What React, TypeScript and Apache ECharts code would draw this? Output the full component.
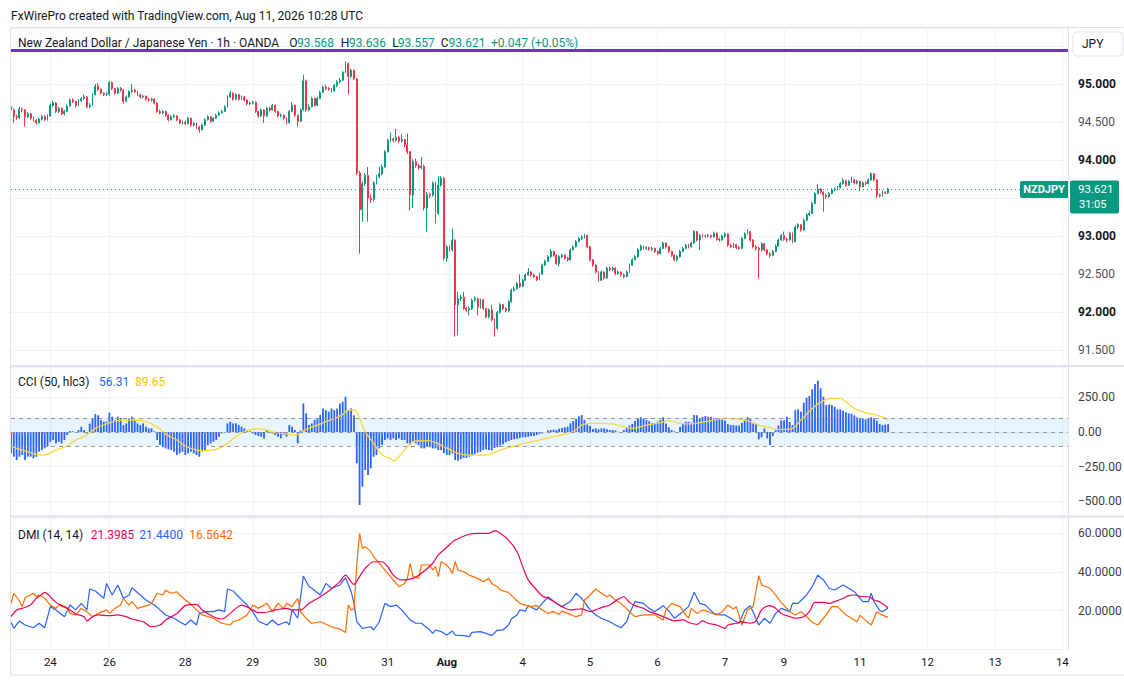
import React, { useEffect, useRef } from 'react';
import * as echarts from 'echarts';

// ---------- DATA (1h bars, bar 0 = Jul 23 10:00) ----------
const firstOpen = 94.70;
const closes = [
  94.66, 94.57, 94.56, 94.67, 94.66, 94.57, 94.61, 94.55, 94.52, 94.49,
  94.54, 94.57, 94.53, 94.58, 94.72, 94.75, 94.64, 94.68, 94.61, 94.64,
  94.71, 94.79, 94.77, 94.72, 94.78, 94.81, 94.83, 94.70, 94.72, 94.86,
  94.97, 94.93, 94.88, 94.86, 94.87, 95.02, 94.94, 94.88, 94.94, 94.92,
  94.77, 94.83, 94.90, 94.92, 94.90, 94.86, 94.83, 94.84, 94.80, 94.79,
  94.80, 94.75, 94.64, 94.62, 94.64, 94.59, 94.53, 94.57, 94.58, 94.53,
  94.49, 94.50, 94.48, 94.55, 94.46, 94.48, 94.43, 94.40, 94.46, 94.53,
  94.57, 94.51, 94.55, 94.59, 94.62, 94.64, 94.70, 94.83, 94.88, 94.80,
  94.86, 94.80, 94.83, 94.79, 94.74, 94.75, 94.76, 94.64, 94.58, 94.66,
  94.58, 94.68, 94.66, 94.72, 94.64, 94.58, 94.59, 94.55, 94.49, 94.64,
  94.72, 94.59, 94.51, 94.66, 95.04, 94.66, 94.70, 94.81, 94.72, 94.81,
  94.89, 94.96, 94.94, 94.93, 94.91, 94.98, 95.03, 95.05, 95.15, 95.27,
  95.10, 95.18, 95.07, 93.83, 93.35, 93.69, 93.80, 93.50, 93.48, 93.70,
  93.78, 93.82, 93.91, 94.11, 94.26, 94.28, 94.26, 94.30, 94.25, 94.27,
  94.20, 94.11, 93.54, 93.98, 93.93, 93.90, 93.92, 93.37, 93.55, 93.54,
  93.70, 93.30, 93.67, 93.76, 92.71, 92.86, 92.82, 92.95, 92.10, 92.18,
  92.20, 92.05, 92.03, 92.05, 92.16, 92.18, 92.07, 92.16, 92.05, 91.94,
  92.03, 91.90, 91.79, 92.00, 92.10, 92.05, 92.02, 92.14, 92.29, 92.31,
  92.38, 92.34, 92.42, 92.49, 92.53, 92.49, 92.47, 92.43, 92.50, 92.62,
  92.67, 92.73, 92.80, 92.75, 92.64, 92.73, 92.75, 92.71, 92.69, 92.82,
  92.86, 92.93, 92.97, 92.99, 93.01, 92.86, 92.69, 92.62, 92.53, 92.42,
  92.53, 92.45, 92.58, 92.56, 92.58, 92.51, 92.53, 92.49, 92.47, 92.53,
  92.62, 92.69, 92.73, 92.82, 92.87, 92.84, 92.85, 92.83, 92.84, 92.80,
  92.77, 92.84, 92.91, 92.86, 92.80, 92.75, 92.69, 92.73, 92.80, 92.84,
  92.88, 92.86, 92.91, 93.06, 92.95, 93.01, 93.00, 93.00, 93.01, 92.99,
  93.04, 92.96, 92.95, 93.00, 93.03, 92.88, 92.86, 92.89, 92.85, 92.84,
  92.97, 93.03, 93.06, 92.95, 92.86, 92.84, 92.82, 92.90, 92.82, 92.77,
  92.75, 92.80, 92.87, 92.95, 93.01, 92.96, 92.95, 93.04, 92.93, 93.12,
  93.15, 93.08, 93.21, 93.28, 93.30, 93.43, 93.56, 93.62, 93.58, 93.54,
  93.52, 93.56, 93.61, 93.62, 93.64, 93.69, 93.73, 93.67, 93.72, 93.74,
  93.70, 93.72, 93.65, 93.70, 93.69, 93.74, 93.82, 93.74, 93.54, 93.53,
  93.58, 93.568, 93.621,
];
const highs = [
  94.72, 94.68, 94.60, 94.70, 94.69, 94.67, 94.63, 94.62, 94.57, 94.54,
  94.56, 94.59, 94.59, 94.60, 94.74, 94.78, 94.76, 94.70, 94.69, 94.66,
  94.73, 94.81, 94.81, 94.78, 94.80, 94.83, 94.86, 94.84, 94.75, 94.88,
  95.00, 95.01, 94.94, 94.89, 94.89, 95.04, 95.03, 94.95, 94.96, 94.96,
  94.93, 94.85, 94.92, 95.00, 94.94, 94.91, 94.87, 94.86, 94.85, 94.82,
  94.82, 94.81, 94.76, 94.66, 94.66, 94.65, 94.60, 94.59, 94.60, 94.59,
  94.54, 94.52, 94.52, 94.57, 94.56, 94.50, 94.49, 94.45, 94.48, 94.55,
  94.59, 94.58, 94.57, 94.61, 94.64, 94.66, 94.72, 94.85, 94.91, 94.89,
  94.88, 94.87, 94.85, 94.84, 94.80, 94.77, 94.78, 94.77, 94.65, 94.68,
  94.67, 94.70, 94.70, 94.74, 94.73, 94.65, 94.61, 94.60, 94.56, 94.66,
  94.76, 94.73, 94.60, 94.68, 95.12, 95.06, 94.73, 94.83, 94.82, 94.83,
  94.91, 94.98, 94.99, 94.96, 94.95, 95.00, 95.05, 95.08, 95.17, 95.30,
  95.28, 95.20, 95.19, 95.08, 93.86, 93.72, 93.83, 93.91, 93.55, 93.72,
  93.80, 93.91, 93.94, 94.13, 94.28, 94.36, 94.30, 94.41, 94.32, 94.34,
  94.28, 94.35, 94.12, 94.01, 94.02, 93.95, 94.04, 93.94, 93.58, 93.57,
  93.72, 93.72, 93.79, 93.79, 93.78, 92.88, 92.88, 93.10, 92.96, 92.27,
  92.23, 92.27, 92.07, 92.08, 92.18, 92.21, 92.19, 92.18, 92.18, 92.06,
  92.05, 92.10, 91.92, 92.02, 92.12, 92.11, 92.07, 92.16, 92.31, 92.34,
  92.40, 92.50, 92.44, 92.51, 92.58, 92.54, 92.51, 92.48, 92.52, 92.64,
  92.69, 92.75, 92.83, 92.81, 92.76, 92.75, 92.77, 92.76, 92.73, 92.84,
  92.88, 92.95, 92.99, 93.01, 93.03, 93.02, 92.87, 92.70, 92.63, 92.54,
  92.55, 92.54, 92.60, 92.60, 92.60, 92.59, 92.55, 92.54, 92.51, 92.55,
  92.64, 92.71, 92.75, 92.84, 92.89, 92.88, 92.87, 92.86, 92.86, 92.85,
  92.81, 92.86, 92.93, 92.92, 92.87, 92.81, 92.76, 92.75, 92.82, 92.86,
  92.90, 92.90, 92.93, 93.08, 93.07, 93.03, 93.03, 93.02, 93.03, 93.02,
  93.06, 93.05, 92.98, 93.02, 93.05, 93.04, 92.90, 92.91, 92.90, 92.87,
  92.99, 93.05, 93.09, 93.07, 92.96, 92.88, 92.86, 92.92, 92.91, 92.83,
  92.79, 92.82, 92.89, 92.97, 93.03, 93.06, 92.98, 93.06, 93.05, 93.14,
  93.17, 93.16, 93.23, 93.30, 93.33, 93.45, 93.58, 93.68, 93.63, 93.59,
  93.56, 93.58, 93.63, 93.64, 93.66, 93.71, 93.76, 93.74, 93.74, 93.78,
  93.75, 93.74, 93.73, 93.72, 93.72, 93.76, 93.84, 93.83, 93.75, 93.56,
  93.60, 93.59, 93.636,
];
const lows = [
  94.62, 94.49, 94.53, 94.54, 94.63, 94.44, 94.55, 94.53, 94.50, 94.47,
  94.48, 94.52, 94.51, 94.52, 94.57, 94.70, 94.62, 94.62, 94.59, 94.59,
  94.63, 94.70, 94.75, 94.69, 94.71, 94.76, 94.79, 94.68, 94.68, 94.71,
  94.85, 94.91, 94.86, 94.84, 94.84, 94.85, 94.92, 94.86, 94.87, 94.90,
  94.74, 94.76, 94.82, 94.88, 94.88, 94.84, 94.81, 94.81, 94.78, 94.77,
  94.77, 94.73, 94.62, 94.60, 94.60, 94.57, 94.51, 94.52, 94.55, 94.51,
  94.47, 94.47, 94.46, 94.47, 94.44, 94.44, 94.41, 94.36, 94.39, 94.45,
  94.52, 94.49, 94.50, 94.54, 94.58, 94.61, 94.63, 94.69, 94.82, 94.78,
  94.79, 94.78, 94.79, 94.77, 94.72, 94.72, 94.73, 94.62, 94.56, 94.57,
  94.49, 94.57, 94.64, 94.65, 94.62, 94.56, 94.56, 94.53, 94.47, 94.48,
  94.63, 94.57, 94.44, 94.50, 94.65, 94.63, 94.64, 94.69, 94.70, 94.71,
  94.80, 94.88, 94.92, 94.91, 94.89, 94.90, 94.96, 95.01, 95.04, 95.14,
  94.86, 95.08, 95.05, 93.80, 92.77, 93.19, 93.66, 93.19, 93.44, 93.46,
  93.68, 93.76, 93.80, 93.90, 94.10, 94.24, 94.23, 94.24, 94.22, 94.23,
  94.17, 94.08, 93.34, 93.37, 93.90, 93.87, 93.88, 93.34, 93.06, 93.50,
  93.52, 93.17, 93.28, 93.65, 92.68, 92.66, 92.80, 92.80, 91.68, 91.70,
  92.15, 92.03, 92.00, 91.96, 92.03, 92.14, 91.96, 92.05, 92.03, 91.92,
  91.92, 91.88, 91.68, 91.77, 91.98, 92.03, 92.00, 92.00, 92.13, 92.27,
  92.30, 92.32, 92.33, 92.41, 92.48, 92.47, 92.45, 92.41, 92.42, 92.49,
  92.61, 92.66, 92.72, 92.73, 92.62, 92.60, 92.71, 92.69, 92.67, 92.68,
  92.81, 92.85, 92.92, 92.95, 92.97, 92.84, 92.67, 92.60, 92.51, 92.40,
  92.41, 92.43, 92.44, 92.54, 92.54, 92.49, 92.49, 92.47, 92.45, 92.46,
  92.52, 92.61, 92.68, 92.72, 92.81, 92.82, 92.82, 92.81, 92.81, 92.78,
  92.75, 92.76, 92.83, 92.84, 92.78, 92.73, 92.67, 92.67, 92.72, 92.79,
  92.83, 92.84, 92.85, 92.90, 92.93, 92.82, 92.98, 92.98, 92.98, 92.97,
  92.98, 92.94, 92.93, 92.94, 92.98, 92.86, 92.84, 92.84, 92.83, 92.82,
  92.83, 92.96, 93.02, 92.93, 92.84, 92.81, 92.44, 92.80, 92.80, 92.75,
  92.72, 92.74, 92.79, 92.86, 92.94, 92.94, 92.92, 92.94, 92.91, 92.92,
  93.10, 93.06, 93.07, 93.20, 93.26, 93.29, 93.42, 93.55, 93.56, 93.32,
  93.49, 93.50, 93.55, 93.59, 93.60, 93.63, 93.68, 93.65, 93.66, 93.70,
  93.68, 93.68, 93.59, 93.64, 93.67, 93.68, 93.73, 93.72, 93.50, 93.51,
  93.52, 93.55, 93.557,
];
const opens = [firstOpen, ...closes.slice(0, -1)];

const cci = [
  -154, -178, -202, -178, -166, -202, -178, -178, -190, -178,
  -142, -130, -118, -106, -70, -58, -82, -70, -82, -58,
  -22, 8, 5, -5, 14, 38, 14, -10, 60, 100,
  130, 120, 86, 74, 74, 139, 110, 86, 110, 100,
  50, 62, 98, 110, 86, 62, 50, 62, 38, 26,
  26, 5, -58, -94, -110, -118, -125, -130, -142, -166,
  -154, -142, -166, -154, -142, -154, -166, -178, -142, -130,
  -94, -82, -70, -58, -34, -10, -5, 62, 74, 62,
  62, 50, 38, 26, 14, 5, -10, -22, -29, -34,
  -46, 14, 2, -10, -22, -34, -46, -22, -34, 50,
  38, 14, -82, 10, 206, 134, 50, 62, 86, 98,
  122, 170, 158, 146, 170, 158, 170, 206, 218, 254,
  158, 170, 120, -226, -526, -394, -274, -310, -262, -178,
  -166, -118, -94, -58, -46, -58, -46, -58, -46, -58,
  -58, -82, -94, -70, -82, -94, -118, -118, -106, -110,
  -118, -118, -130, -130, -154, -166, -166, -154, -202, -207,
  -197, -187, -187, -178, -168, -159, -149, -142, -130, -125,
  -130, -132, -115, -108, -96, -89, -75, -65, -58, -53,
  -48, -43, -38, -38, -34, -29, -29, -22, -14, -10,
  0, 10, 14, 17, 14, 24, 29, 34, 38, 62,
  79, 94, 113, 122, 86, 55, 43, 22, 26, 19,
  26, 26, 19, 14, 14, 10, 2, -2, 14, 36,
  46, 58, 79, 101, 106, 94, 86, 77, 65, 62,
  74, 86, 106, 62, 34, 14, 5, 0, 38, 58,
  74, 74, 67, 122, 120, 98, 108, 115, 110, 110,
  98, 98, 98, 89, 82, 58, 50, 50, 46, 46,
  67, 91, 108, 96, 62, 58, -53, -38, 26, -46,
  -94, -29, 12, 46, 84, 82, 110, 72, 50, 158,
  163, 146, 211, 247, 259, 307, 346, 370, 315, 254,
  194, 199, 194, 182, 163, 163, 154, 142, 134, 132,
  120, 106, 98, 98, 91, 98, 106, 98, 82, 58,
  50, 53, 56.31,
];

const cciMa = [
  [0, -101], [3, -125], [7, -149], [9, -161], [11, -166], [13, -161], [16, -130], [20, -101],
  [23, -58], [27, -22], [30, 26], [34, 58], [37, 79], [41, 86], [45, 86], [48, 74], [52, 38],
  [55, -14], [59, -58], [62, -101], [66, -130], [69, -135], [73, -125], [77, -82], [80, -34],
  [84, 10], [87, 22], [91, 14], [94, -5], [98, -14], [101, -22], [105, 19], [109, 50],
  [112, 74], [116, 106], [118, 127], [120, 158], [122, 158], [124, 98], [126, 2], [129, -82],
  [132, -166], [135, -190], [136, -209], [138, -178], [141, -106], [144, -65], [148, -62],
  [151, -77], [153, -96], [156, -125], [159, -154], [163, -166], [168, -166], [171, -154],
  [176, -118], [182, -86], [188, -58], [194, -29], [200, 2], [203, 50], [206, 62], [209, 62],
  [214, 58], [218, 38], [221, 26], [226, 50], [231, 67], [234, 82], [238, 62], [241, 58],
  [247, 74], [251, 91], [254, 98], [259, 91], [263, 74], [266, 50], [270, 31], [272, 19],
  [276, 19], [278, 26], [281, 86], [285, 170], [289, 226], [292, 242], [295, 242], [297, 218],
  [300, 170], [304, 139], [308, 122], [311, 98], [312, 89.65],
];

const adx = [
  [0, 16.9], [2, 20.4], [4, 21.2], [7, 23], [9, 26.4], [11, 28.5], [12, 29.5], [14, 27.2],
  [16, 24.3], [19, 22.1], [21, 20.4], [23, 18.3], [26, 16.9], [27, 14.7], [29, 16.9], [31, 17.8],
  [35, 17.4], [38, 17.8], [41, 16.9], [43, 15.7], [47, 14.3], [50, 11.7], [53, 12.6], [55, 15.2],
  [59, 18.6], [62, 22.6], [66, 23.3], [68, 20.4], [72, 16.9], [75, 15.7], [78, 18.6], [80, 21.2],
  [82, 22.9], [86, 20.4], [88, 19], [91, 19.2], [94, 20.4], [98, 21.2], [100, 20.4], [103, 20.4],
  [106, 23.8], [110, 27.2], [113, 30.2], [117, 35], [119, 38.4], [122, 33.6], [124, 37.6],
  [126, 41.9], [129, 45.3], [132, 45.3], [134, 42.8], [136, 38.4], [139, 35.9], [143, 36.7],
  [146, 39.3], [150, 44.5], [152, 48.8], [155, 52.8], [158, 56.5], [163, 59.5], [166, 60],
  [170, 60], [172, 61.2], [174, 60], [177, 56.5], [180, 50.5], [182, 42.8], [184, 35.9],
  [187, 30.7], [189, 27.6], [191, 26.4], [194, 23.8], [196, 22.1], [199, 20.4], [201, 20.7],
  [203, 20.9], [206, 19.5], [208, 20.4], [210, 21.6], [213, 22.9], [215, 25], [218, 27.2],
  [220, 24.3], [222, 22.6], [225, 21.2], [227, 19.5], [229, 18.6], [232, 16.9], [234, 15.7],
  [236, 14.7], [239, 15.2], [241, 14], [244, 12.9], [246, 14.7], [248, 13.5], [251, 12.6],
  [254, 10.9], [255, 12.6], [258, 13.5], [260, 14.3], [263, 13.5], [265, 14.7], [267, 20.4],
  [270, 22.6], [272, 21.2], [274, 18.6], [277, 16.9], [279, 16.1], [282, 16.9], [284, 19.5],
  [286, 24.3], [289, 24.3], [291, 23.8], [293, 24.7], [296, 26.4], [298, 27.8], [300, 28.1],
  [303, 27.2], [305, 27.2], [307, 25.5], [309, 24.6], [312, 21.3985],
];

const plusDi = [
  [0, 14], [1, 10.9], [3, 14.7], [5, 12.6], [8, 11.2], [10, 13.5], [12, 11.2], [14, 22.1],
  [16, 20.4], [19, 16.9], [21, 22.9], [23, 20.4], [25, 23.8], [27, 20.4], [28, 31.2], [30, 30.2],
  [33, 26.4], [34, 34.1], [36, 28.1], [38, 33.3], [40, 26.4], [42, 28.1], [43, 31.9], [46, 28.1],
  [48, 25.5], [51, 22.9], [53, 20.4], [55, 17.8], [58, 16.1], [60, 14.3], [62, 12.6], [64, 15.2],
  [66, 12.6], [67, 18.6], [69, 19.5], [72, 19.5], [74, 20.4], [76, 19.5], [77, 31.2], [79, 30.2],
  [81, 27.2], [84, 22.9], [86, 19.5], [88, 14.7], [91, 12.6], [93, 15.2], [95, 12.6], [98, 14.3],
  [99, 12.6], [100, 20.4], [102, 16.1], [104, 37.9], [106, 32.4], [107, 31.6], [110, 28.1],
  [112, 34.1], [114, 31.6], [117, 33.3], [119, 37.1], [121, 29.8], [122, 23.8], [123, 14.3],
  [125, 10.9], [128, 11.7], [129, 10], [131, 14.3], [133, 23.8], [135, 22.1], [137, 22.9],
  [139, 20.4], [142, 15.2], [144, 13.5], [146, 13.5], [149, 10], [150, 8.3], [151, 10],
  [153, 9.2], [155, 7.4], [157, 9.5], [158, 7.4], [161, 7.1], [163, 6.6], [164, 8.8], [167, 9.2],
  [169, 8.3], [171, 7.1], [173, 10], [175, 10], [177, 12.6], [178, 15.7], [180, 17.8], [181, 20.4],
  [183, 19.8], [184, 22.6], [187, 20.4], [189, 23.8], [191, 27.2], [194, 23.8], [196, 22.1],
  [199, 24.7], [201, 29], [203, 26.4], [206, 20.4], [208, 17.8], [210, 16.1], [213, 14.3],
  [215, 12.6], [217, 11.2], [219, 14.3], [220, 18.6], [222, 24.7], [225, 23.8], [227, 21.2],
  [229, 19.5], [232, 22.6], [234, 19.8], [236, 16.1], [239, 19.5], [241, 22.1], [243, 29.5],
  [245, 23.8], [247, 22.9], [250, 18.6], [252, 17.8], [254, 17.8], [257, 15.2], [259, 13.5],
  [261, 20.4], [263, 22.6], [266, 12.6], [268, 16.1], [270, 13.5], [272, 18.6], [274, 21.2],
  [277, 19.5], [278, 23.8], [280, 23.8], [283, 28.1], [285, 32.4], [287, 38.4], [289, 35.9],
  [291, 31.6], [293, 30.7], [296, 33.3], [298, 31.6], [300, 29.8], [303, 24.7], [305, 24.7],
  [306, 29], [307, 24.7], [309, 20], [310, 19.5], [312, 21.44],
];

const minusDi = [
  [0, 23.8], [1, 29], [3, 25], [4, 22.1], [5, 26.7], [8, 29], [9, 27.2], [10, 28.1], [12, 26.4],
  [14, 22.9], [16, 21.2], [17, 22.9], [20, 21.2], [21, 18.6], [23, 17.8], [25, 21.2], [27, 19.5],
  [29, 16.9], [31, 18.6], [34, 20.4], [35, 18.6], [37, 21.2], [39, 22.9], [40, 26.4], [42, 22.9],
  [43, 24.7], [45, 21.2], [47, 22.1], [49, 22.9], [50, 23.8], [52, 29], [54, 28.1], [55, 30.5],
  [57, 29], [59, 29.8], [60, 28.1], [62, 25.5], [64, 23.3], [66, 20.4], [68, 17.8], [72, 16.1],
  [75, 13.5], [78, 12.6], [79, 14.3], [81, 15.2], [84, 17.8], [86, 22.9], [88, 21.2], [91, 23.8],
  [93, 19.5], [95, 23.8], [97, 21.2], [98, 23.8], [100, 22.1], [102, 26.4], [103, 19.5],
  [105, 16.1], [107, 13.5], [110, 14.3], [112, 13], [114, 11.7], [117, 10.5], [119, 8.8],
  [120, 22.9], [121, 20.4], [122, 21], [123, 43.6], [124, 60], [125, 52.2], [126, 53.1],
  [128, 50.5], [129, 47.9], [131, 44.5], [133, 41], [136, 35.9], [138, 32.4], [140, 34.1],
  [141, 36.7], [142, 44.5], [143, 37.6], [145, 36.7], [146, 43.6], [149, 43.6], [150, 41],
  [151, 42.8], [152, 37.6], [153, 45.3], [155, 43.6], [156, 41.9], [157, 39.3], [158, 45.3],
  [159, 41], [161, 40.2], [163, 38.4], [166, 36.7], [168, 35], [170, 36.7], [171, 34.1],
  [173, 32.4], [174, 30.7], [177, 29.5], [179, 26.4], [181, 23.8], [183, 22.9], [184, 22.1],
  [187, 22.6], [189, 20.4], [191, 18.6], [193, 19.5], [195, 18.1], [196, 19.8], [198, 18.6],
  [201, 16.9], [203, 17.8], [204, 25.5], [206, 28.1], [208, 31.2], [210, 29], [212, 27.2],
  [213, 28.1], [215, 25.5], [217, 23.8], [220, 19.5], [222, 16.9], [225, 17.8], [227, 17.8],
  [229, 17.8], [232, 15.2], [233, 20.4], [235, 23.8], [238, 22.1], [240, 17.8], [241, 16.1],
  [242, 21.2], [244, 18.6], [246, 20.4], [248, 19.5], [251, 17.8], [253, 19.5], [255, 22.9],
  [257, 20.9], [258, 22.1], [260, 12.6], [262, 20.4], [264, 22.1], [266, 38.1], [267, 33.3],
  [270, 31.6], [272, 28.1], [274, 24.3], [277, 19.5], [279, 17.8], [281, 19.5], [283, 16.9],
  [285, 14], [287, 12.6], [290, 17.8], [292, 22.1], [294, 22.1], [297, 17.8], [299, 16.1],
  [301, 14.3], [302, 17.7], [304, 15], [306, 12.6], [308, 19.5], [310, 17.7], [312, 16.5642],
];

const tickBars = [14, 35, 62, 86, 110, 134, 155, 182, 206, 230, 254, 275, 302, 326, 350, 374];
const tickLabels = ['24', '26', '28', '29', '30', '31', 'Aug', '4', '5', '6', '7', '9', '11', '12', '13', '14'];
const categoryCount = 377;

const lastPrice = 93.621;
const bannerLevel = 95.44;
const headerLine = 'FxWirePro created with TradingView.com, Aug 11, 2026 10:28 UTC';
const symbolTitle = 'New Zealand Dollar / Japanese Yen · 1h · OANDA';
const ohlcKeys = ['O', 'H', 'L', 'C'];
const ohlcVals = ['93.568', '93.636', '93.557', '93.621'];
const changeText = '+0.047 (+0.05%)';
const cciTitle = 'CCI (50, hlc3)';
const cciVals = ['56.31', '89.65'];
const dmiTitle = 'DMI (14, 14)';
const dmiVals = ['21.3985', '21.4400', '16.5642'];
const countdown = '31:05';

// ---------- STYLE ----------
const FONT = 'Roboto, "Noto Sans", sans-serif';
const UP = '#089981';
const DOWN = '#F23645';
const GRID = '#f0f3fa';
const BORDER = '#e0e3eb';
const TXT = '#131722';
const BLUE = '#2962FF';
const YELLOW = '#FDD835';
const PINK = '#F50057';
const ORANGE = '#FF6D00';

function txt(x: number, y: number, text: string, fill: string, size = 12, weight = 'normal', align = 'left') {
  return {
    type: 'text', x, y, z: 100,
    style: {
      text, fill, font: `${weight} ${size}px ${FONT}`,
      align, textAlign: align, verticalAlign: 'middle', textVerticalAlign: 'middle',
    },
  };
}
function hline(y: number, x1: number, x2: number, color: string, width = 1) {
  return { type: 'line', z: 90, shape: { x1, y1: y, x2, y2: y }, style: { stroke: color, lineWidth: width } };
}
function vline(x: number, y1: number, y2: number, color: string, width = 1) {
  return { type: 'line', z: 90, shape: { x1: x, y1, x2: x, y2 }, style: { stroke: color, lineWidth: width } };
}

function buildOption() {
  const cats = Array.from({ length: categoryCount }, (_, i) => String(i));
  const isTick = (i: number) => tickBars.indexOf(i) >= 0;
  const candleData = closes.map((c, i) => [opens[i], c, lows[i], highs[i]]);

  const xAxis = (gridIndex: number, labels: boolean) => ({
    type: 'category', gridIndex, data: cats, boundaryGap: false,
    axisLine: { show: false }, axisTick: { show: false },
    axisPointer: { show: false },
    axisLabel: labels ? {
      show: true, interval: (i: number) => isTick(i), margin: 7,
      fontSize: 11.5, color: TXT, fontFamily: FONT,
      formatter: (v: string) => {
        const k = tickBars.indexOf(Number(v));
        if (k < 0) return '';
        const t = tickLabels[k];
        return t === 'Aug' ? `{b|${t}}` : t;
      },
      rich: { b: { fontWeight: 'bold', fontSize: 11.5, color: TXT, fontFamily: FONT } },
    } : { show: false },
    splitLine: { show: true, interval: (i: number) => isTick(i), lineStyle: { color: GRID, width: 1 } },
  });

  const yBase = {
    type: 'value', position: 'right', scale: true,
    axisLine: { show: true, lineStyle: { color: BORDER, width: 1 } },
    axisTick: { show: false },
    splitLine: { show: true, lineStyle: { color: GRID, width: 1 } },
  };

  return {
    animation: false,
    backgroundColor: '#ffffff',
    textStyle: { fontFamily: FONT },
    grid: [
      { left: 11, right: 56, top: 28, height: 337, containLabel: false, outerBoundsMode: 'none' },
      { left: 11, right: 56, top: 367, height: 148, containLabel: false, outerBoundsMode: 'none' },
      { left: 11, right: 56, top: 518, height: 131, containLabel: false, outerBoundsMode: 'none' },
    ],
    xAxis: [xAxis(0, false), xAxis(1, false), xAxis(2, true)],
    yAxis: [
      {
        ...yBase, gridIndex: 0, min: 91.3075, max: 95.736, minInterval: 0.5, maxInterval: 0.5,
        axisLabel: {
          margin: 10, fontFamily: FONT,
          formatter: (v: number) => {
            const r = Math.round(v * 2) / 2;
            // labels hidden by the JPY box and by the last-price tag, as in the reference
            if (Math.abs(v - r) > 1e-6 || r > 95.4 || Math.abs(r - lastPrice) < 0.2) return '';
            return Math.abs(r - Math.round(r)) < 1e-6 ? `{b|${r.toFixed(3)}}` : `{n|${r.toFixed(3)}}`;
          },
          rich: {
            b: { fontWeight: 'bold', fontSize: 12, color: TXT, fontFamily: FONT },
            n: { fontSize: 12, color: '#50535e', fontFamily: FONT },
          },
        },
      },
      {
        ...yBase, gridIndex: 1, min: -598, max: 468.3, minInterval: 250, maxInterval: 250,
        axisLabel: {
          margin: 10, fontSize: 12, color: '#3b3e48', fontFamily: FONT,
          formatter: (v: number) => {
            const r = Math.round(v / 250) * 250;
            if (Math.abs(v - r) > 1e-6) return '';
            return (r < 0 ? '\u2212' : '') + Math.abs(r).toFixed(2);
          },
        },
      },
      {
        ...yBase, gridIndex: 2, min: 0.2, max: 67.9, minInterval: 20, maxInterval: 20,
        axisLabel: {
          margin: 10, fontSize: 12, color: '#3b3e48', fontFamily: FONT,
          formatter: (v: number) => {
            const r = Math.round(v / 20) * 20;
            if (Math.abs(v - r) > 1e-6) return '';
            return r.toFixed(4);
          },
        },
      },
    ],
    series: [
      {
        type: 'candlestick', xAxisIndex: 0, yAxisIndex: 0, data: candleData, barWidth: 1.4,
        itemStyle: { color: UP, color0: DOWN, borderColor: UP, borderColor0: DOWN, borderWidth: 1 },
        markLine: {
          silent: true, symbol: ['none', 'none'], label: { show: false }, animation: false,
          data: [
            { yAxis: lastPrice, lineStyle: { color: UP, type: [1, 3], width: 1 } },
            { yAxis: bannerLevel, lineStyle: { color: '#673ab7', type: 'solid', width: 3 } },
          ],
        },
      },
      {
        type: 'bar', xAxisIndex: 1, yAxisIndex: 1, data: cci, barWidth: 1.8,
        itemStyle: { color: BLUE },
        markArea: {
          silent: true, itemStyle: { color: 'rgba(33,150,243,0.1)' },
          data: [[{ yAxis: 100 }, { yAxis: -100 }]],
        },
        markLine: {
          silent: true, symbol: ['none', 'none'], label: { show: false }, animation: false,
          lineStyle: { color: '#9598a1', type: [4, 4], width: 1 },
          data: [{ yAxis: 100 }, { yAxis: 0 }, { yAxis: -100 }],
        },
      },
      {
        type: 'line', xAxisIndex: 1, yAxisIndex: 1, data: cciMa, symbol: 'none', smooth: 0.4,
        lineStyle: { color: YELLOW, width: 1.3 },
      },
      {
        type: 'line', xAxisIndex: 2, yAxisIndex: 2, data: plusDi, symbol: 'none',
        lineStyle: { color: BLUE, width: 1.2 },
      },
      {
        type: 'line', xAxisIndex: 2, yAxisIndex: 2, data: minusDi, symbol: 'none',
        lineStyle: { color: ORANGE, width: 1.2 },
      },
      {
        type: 'line', xAxisIndex: 2, yAxisIndex: 2, data: adx, symbol: 'none', smooth: 0.3,
        lineStyle: { color: PINK, width: 1.2 },
      },
    ],
    graphic: [
      hline(27.5, 10, 1124, BORDER),
      vline(10.5, 27, 675, BORDER),
      hline(366, 10, 1124, BORDER, 2),
      hline(516.5, 10, 1124, BORDER, 2),
      hline(675, 10, 1124, BORDER, 1),
      txt(11, 16, headerLine, TXT),
      txt(18, 43, symbolTitle, TXT),
      ...ohlcKeys.map((k, i) => txt([289.3, 340.7, 392.3, 440.7][i], 43, k, TXT)),
      ...ohlcVals.map((v, i) => txt([297, 349, 397.8, 448.5][i], 43, v, UP)),
      txt(491, 43, changeText, UP),
      {
        type: 'rect', z: 100, shape: { x: 1073, y: 32, width: 50, height: 24, r: 4 },
        style: { fill: '#ffffff', stroke: BORDER, lineWidth: 1 },
      },
      txt(1082, 44, 'JPY', TXT, 12),
      {
        type: 'rect', z: 100, shape: { x: 1020, y: 181, width: 48, height: 17, r: [2, 0, 0, 2] },
        style: { fill: UP },
      },
      txt(1044, 189.5, 'NZDJPY', '#ffffff', 11, 'bold', 'center'),
      {
        type: 'rect', z: 100, shape: { x: 1070, y: 180.5, width: 49, height: 33, r: 2 },
        style: { fill: UP },
      },
      txt(1078, 188.5, lastPrice.toFixed(3), '#ffffff', 11.5),
      txt(1079, 204.5, countdown, '#ffffff', 11),
      txt(18, 382, cciTitle, TXT),
      txt(99, 382, cciVals[0], BLUE),
      txt(135, 382, cciVals[1], '#f2c200'),
      txt(18, 534.5, dmiTitle, TXT),
      txt(90.7, 534.5, dmiVals[0], PINK),
      txt(139.3, 534.5, dmiVals[1], BLUE),
      txt(189.3, 534.5, dmiVals[2], ORANGE),
    ],
  };
}

export default function App() {
  const ref = useRef<HTMLDivElement | null>(null);
  useEffect(() => {
    document.body.style.margin = '0';
    const chart = echarts.init(ref.current as HTMLDivElement, null, { renderer: 'svg' });
    chart.setOption(buildOption() as any);
    return () => chart.dispose();
  }, []);
  return (
    <div
      ref={ref}
      style={{ position: 'fixed', left: 0, top: 0, width: 1124, height: 686, background: '#fff' }}
    />
  );
}
